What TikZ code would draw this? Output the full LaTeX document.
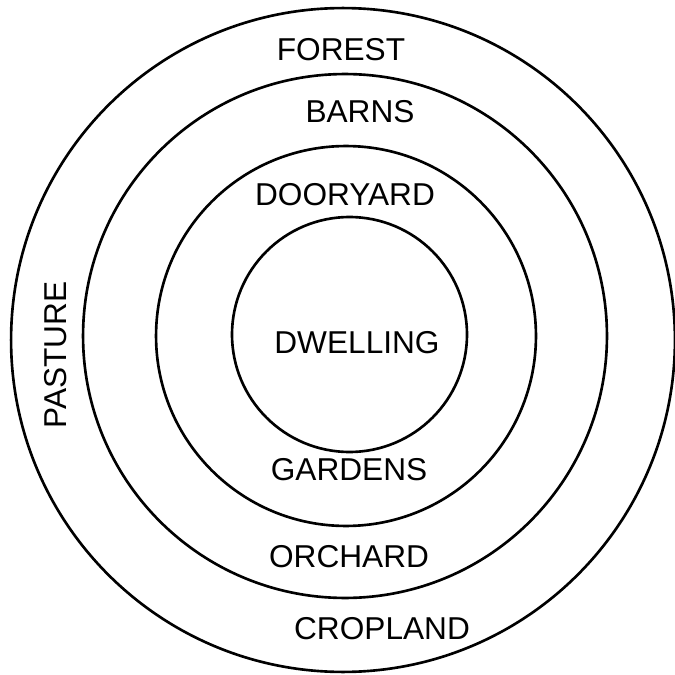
\documentclass[tikz,border=0pt]{standalone}
\usepackage{fontspec}
\setmainfont{Liberation Sans}
\tikzset{
  ring/.style={
    draw=black,
    line width=1.5pt
  },
  zone/.style={
    text=black,
    inner sep=0pt,
    outer sep=0pt,
    font=\fontsize{18}{20}\selectfont
  }
}

\begin{document}
\begin{tikzpicture}[x=0.02cm, y=-0.02cm]
  \useasboundingbox (0,0) rectangle (675,675);

  % --- Rings, from the dwelling outwards ---
  \foreach \cx/\cy/\r in {349.5/334.5/2.35, 346/336/3.80, 345/336/5.24, 343/340/6.64}
    \draw[ring] (\cx,\cy) circle [radius=\r cm];

  % --- Zone labels ---
  \node[zone] (dwelling) at (357,343) {DWELLING};
  \node[zone] (dooryard) at (345,195) {DOORYARD};
  \node[zone] (gardens)  at (349,470) {GARDENS};
  \node[zone] (barns)    at (360,112) {BARNS};
  \node[zone] (orchard)  at (349,557) {ORCHARD};
  \node[zone] (forest)   at (341,50)  {FOREST};
  \node[zone] (cropland) at (382,629) {CROPLAND};
  \node[zone, rotate=90] (pasture) at (56,355) {PASTURE};

\end{tikzpicture}
\end{document}
